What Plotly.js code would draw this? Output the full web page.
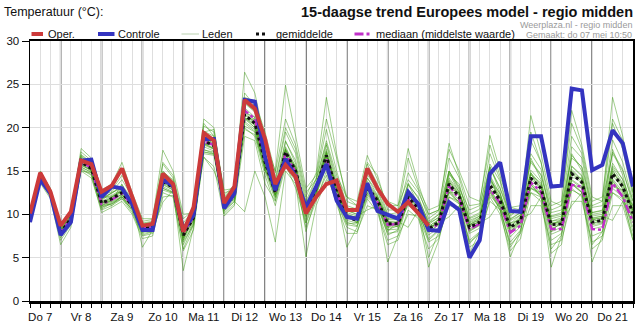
<!DOCTYPE html>
<html><head><meta charset="utf-8">
<script src="https://cdn.plot.ly/plotly-3.0.1.min.js"></script>
<style>html,body{margin:0;padding:0;background:#fff}#chart{width:639px;height:329px}</style>
</head><body><div id="chart"></div>
<script>
// Day labels (placed at noon of each day); the axis starts Do 7 06:00, one value every 6 hours
const dayLabels = ['Do 7','Vr 8','Za 9','Zo 10','Ma 11','Di 12','Wo 13','Do 14','Vr 15','Za 16','Zo 17','Ma 18','Di 19','Wo 20','Do 21'];
const startHour = 6;
const stepHours = 6;

const oper = [10.1,14.8,12.6, 8.7,10.3,16.2,15.8, 12.6,13.3,15.3,12.0, 8.7,8.9,14.7,13.5, 8.0,10.8,19.4,18.5, 11.3,13.2,23.2,22.2, 18.7,13.5,15.7,14.3, 10.1,12.0,13.5,13.9, 10.5,10.5,15.3,13.0, 11.2,10.3,11.4,10.1, 8.7];
const controle = [9.1,14.0,12.4, 7.6,9.1,16.2,16.3, 12.0,13.2,13.0,11.2, 8.2,8.2,14.0,13.3, 8.2,9.9,18.7,18.7, 10.7,12.4,23.2,23.0, 16.6,12.8,16.4,14.3, 10.8,13.2,15.8,11.6, 9.7,9.5,13.6,10.4, 10.0,9.5,12.6,11.2, 8.2,8.1,11.4,10.5, 5.0,7.0,14.7,16.0, 10.4,10.3,19.0,19.0, 13.2,13.3,24.5,24.3, 15.1,15.7,19.7,18.2, 13.2];
const gemiddelde = [9.5,14.3,12.5, 7.9,9.5,16.0,15.3, 11.3,11.8,12.5,11.0, 8.3,8.5,13.8,13.1, 7.6,9.6,18.5,17.9, 11.0,12.3,21.5,20.5, 16.0,12.5,17.2,15.0, 10.3,13.0,16.8,12.6, 9.7,9.3,13.2,11.6, 8.9,8.9,12.0,10.7, 8.3,9.1,13.5,12.0, 8.5,9.1,13.4,11.6, 8.5,9.3,14.2,13.0, 8.8,8.9,14.7,13.7, 9.1,9.3,14.7,13.2, 10.1];
const mediaan = [9.5,14.2,12.4, 7.9,9.5,16.0,15.4, 11.2,11.7,12.4,11.0, 8.4,8.5,13.9,13.2, 7.8,9.7,18.4,18.0, 11.2,12.6,22.0,21.0, 16.2,12.6,17.0,14.8, 10.4,13.0,16.5,12.4, 9.8,9.4,13.0,11.4, 8.8,8.9,11.8,10.5, 8.2,8.9,13.3,11.8, 8.3,8.9,12.9,11.3, 7.9,8.7,13.7,12.6, 8.3,8.3,13.4,13.2, 8.3,8.2,13.6,12.0, 9.1];

// Ensemble members (Leden), values read/
const lid01 = [9.6,14.6,12.8, 8.2,9.8,16.4,15.6, 11.8,12.2,12.9,11.3, 8.6,8.9,14.3,13.5, 8.1,10.0,19.0,18.4, 11.5,12.8,22.3,21.2, 16.6,13.0,17.8,15.4, 10.8,13.6,17.5,13.2, 10.2,9.8,13.8,12.1, 9.4,9.4,12.6,11.2, 8.8,9.7,14.2,12.6, 9.1,9.8,14.5,12.3, 8.9,10.0,15.1,13.8, 9.2,9.6,15.6,14.5, 9.8,10.0,15.6,14.0, 10.8];
const lid02 = [9.3,14.0,12.2, 7.5,9.1,15.5,14.8, 10.8,11.4,12.0,10.5, 7.8,8.0,13.2,12.6, 7.0,9.1,17.8,17.3, 10.4,11.8,20.7,19.8, 15.3,11.9,16.5,14.4, 9.7,12.4,16.0,12.0, 9.1,8.7,12.5,11.0, 8.2,8.3,11.3,10.1, 7.6,8.5,12.8,11.3, 7.8,8.4,12.9,10.9, 7.4,8.6,13.4,12.3, 7.7,8.2,13.9,13.0, 8.3,8.6,13.8,12.4, 9.3];
const lid03 = [9.8,14.9,13.0, 8.5,10.0,17.2,16.2, 12.5,12.8,14.5,12.2, 9.0,9.2,15.8,14.2, 9.0,10.5,20.2,19.5, 12.2,13.4,24.0,22.5, 17.8,13.8,19.5,17.0, 11.5,14.2,19.8,15.0, 11.0,10.6,15.8,13.5, 10.0,10.2,14.8,12.8, 9.5,10.4,16.5,14.2, 10.0,10.6,17.0,14.0, 9.8,10.8,18.5,16.0, 10.2,10.5,19.0,17.0, 10.8,11.0,20.5,17.5, 12.0];
const lid04 = [9.2,13.8,12.0, 7.0,8.8,15.2,14.5, 10.2,10.8,11.5,10.0, 7.2,7.5,12.5,12.0, 5.8,8.2,17.0,16.8, 10.0,11.2,20.0,19.0, 14.5,11.0,15.5,13.8, 8.5,11.5,15.0,11.2, 7.8,7.8,11.8,10.2, 6.5,7.0,10.5,9.5, 6.0,7.2,11.5,10.5, 6.2,7.0,12.0,10.0, 5.8,7.2,12.5,11.5, 5.5,6.5,13.0,12.0, 6.0,7.0,12.5,11.5, 7.5];
const lid05 = [9.5,14.4,12.6, 8.0,9.6,16.5,15.0, 11.0,11.2,12.0,10.8, 8.5,8.7,14.2,13.4, 7.2,9.8,18.0,18.2, 11.2,12.0,21.0,21.0, 15.5,12.8,16.8,15.5, 10.5,12.6,17.2,12.2, 10.0,9.0,12.8,11.8, 9.2,8.5,12.4,10.3, 8.6,8.8,13.0,12.5, 8.8,9.4,14.5,11.2, 8.5,9.0,14.8,12.6, 8.8,9.2,14.2,14.2, 9.5,9.0,15.2,12.8, 10.5];
const lid06 = [9.4,14.2,12.4, 7.6,9.4,15.8,15.0, 11.5,11.0,12.2,11.2, 8.0,8.2,13.5,12.8, 3.5,8.5,17.5,17.0, 10.8,12.5,22.0,20.2, 16.2,12.2,17.5,14.8, 9.0,12.8,17.0,12.8, 9.5,9.5,13.5,11.5, 8.5,9.0,12.2,11.0, 8.0,9.5,13.8,12.2, 8.0,8.8,13.2,11.8, 8.0,9.5,14.0,13.2, 8.0,9.2,14.8,13.5, 8.8,9.5,14.5,13.0, 9.8];
const lid07 = [9.7,15.0,12.9, 8.4,10.2,17.6,16.5, 12.8,13.5,16.0,12.5, 9.5,9.5,17.4,15.0, 10.0,10.2,19.5,19.8, 12.5,12.8,23.5,23.0, 19.5,14.8,21.0,18.0, 12.5,14.0,18.5,14.5, 12.0,11.0,15.0,13.0, 11.5,11.0,14.0,12.5, 10.0,10.5,15.0,13.0, 10.5,11.0,15.5,13.0, 10.0,10.5,16.0,14.5, 10.5,11.0,16.5,15.5, 11.0,11.5,17.0,15.0, 11.5];
const lid08 = [9.1,13.6,11.8, 6.5,8.5,15.0,14.2, 10.5,11.0,11.8,10.2, 7.5,7.8,12.0,12.2, 6.0,8.8,16.6,15.5, 9.8,11.0,19.0,18.5, 13.5,11.5,15.8,13.0, 9.0,11.8,14.5,11.5, 8.5,8.0,11.0,10.5, 7.0,7.5,10.0,9.8, 6.8,7.5,11.0,10.8, 6.8,7.8,11.5,10.5, 6.5,7.8,11.0,11.0, 6.5,7.0,11.5,11.5, 6.8,7.5,11.0,11.0, 7.0];
const lid09 = [9.6,14.5,12.7, 8.3,9.9,16.8,15.9, 11.6,12.5,13.2,11.6, 8.8,9.0,14.6,13.6, 8.5,10.2,21.0,20.0, 12.0,13.2,26.4,24.0, 18.5,15.0,24.9,19.0, 13.0,14.5,21.0,16.5, 12.0,11.5,16.8,14.0, 11.0,11.0,17.6,13.5, 10.0,10.5,18.2,14.5, 11.0,11.2,19.1,15.0, 10.8,10.5,21.4,17.0, 11.5,11.0,22.0,18.0, 12.0,11.5,23.5,19.0, 12.5];
const lid10 = [9.3,14.1,12.3, 7.7,9.2,15.6,15.2, 11.0,11.6,12.4,10.8, 7.9,8.3,13.6,13.0, 6.5,9.0,18.2,17.5, 10.5,11.5,21.2,20.0, 15.8,12.0,16.5,14.6, 8.0,12.2,16.0,12.0, 6.2,8.5,12.0,11.0, 4.5,7.5,11.5,10.0, 3.9,7.0,12.0,11.5, 5.5,8.0,12.5,10.5, 5.1,8.0,13.5,12.0, 3.9,7.5,13.5,12.5, 4.5,7.5,14.0,12.0, 7.0];
const lid11 = [9.5,14.3,12.5, 7.9,9.6,16.1,15.4, 11.2,11.9,12.6,11.1, 8.4,8.6,13.9,13.2, 7.8,9.7,18.6,18.0, 11.1,12.4,21.6,20.6, 16.1,12.6,17.3,15.1, 10.4,13.1,16.9,12.7, 9.8,9.4,13.3,11.7, 9.0,9.0,12.1,10.8, 8.4,9.2,13.6,12.1, 8.6,9.2,13.8,11.7, 8.3,9.4,14.3,13.1, 8.6,9.0,14.8,13.8, 9.2,9.4,14.8,13.3, 10.2];
const lid12 = [9.7,14.7,12.2, 8.8,9.3,15.4,14.9, 12.0,12.0,12.8,11.5, 8.9,8.4,13.0,12.5, 8.8,9.3,17.2,17.0, 11.8,12.0,20.2,19.5, 15.0,13.5,16.0,14.0, 11.0,13.5,15.5,13.5, 10.5,10.0,12.5,12.0, 9.8,9.6,11.5,11.5, 9.0,10.0,12.5,12.5, 9.5,10.0,12.8,12.0, 9.5,10.2,13.0,12.5, 9.8,10.2,13.5,13.0, 10.2,10.5,13.2,12.8, 11.0];
const lid13 = [9.4,14.6,12.8, 7.8,9.7,16.6,15.8, 11.4,11.5,13.5,11.0, 8.2,8.8,15.0,13.8, 7.4,9.5,19.2,18.6, 10.8,12.2,22.8,21.8, 16.8,12.4,18.5,15.8, 10.2,13.2,18.0,13.5, 9.6,9.4,14.2,12.2, 8.6,9.2,13.5,11.2, 8.2,9.0,15.0,12.8, 8.2,9.5,15.5,12.5, 8.0,9.2,16.5,14.0, 8.2,9.0,17.0,15.0, 9.0,9.2,17.5,14.5, 10.0];
const lid14 = [9.3,13.9,12.1, 8.1,9.4,15.3,14.6, 10.8,11.2,11.8,10.6, 8.4,8.4,12.8,12.4, 7.9,9.2,17.2,16.9, 11.0,11.8,19.8,19.2, 15.2,12.2,16.0,14.2, 10.4,12.5,15.8,12.2, 9.6,9.2,12.2,11.2, 8.8,8.8,11.0,10.2, 8.0,8.8,12.0,11.2, 8.2,8.8,12.2,10.8, 8.0,9.0,12.5,12.0, 8.4,8.8,12.8,12.2, 8.8,9.0,12.5,11.8, 9.6];
const lid15 = [9.6,14.2,12.6, 8.0,9.5,16.2,15.5, 11.8,12.5,13.0,11.4, 6.2,8.2,11.4,12.8, 7.0,10.0,16.6,15.0, 12.0,11.5,10.3,15.0, 12.0,6.8,15.0,13.5, 5.1,11.0,14.0,13.0, 9.5,9.8,10.5,11.0, 8.0,9.2,8.5,10.5, 8.5,9.0,9.7,11.0, 8.8,9.0,9.7,11.5, 8.5,9.5,10.1,12.0, 9.0,9.0,11.0,12.5, 9.5,9.8,9.3,11.5, 9.0];
const lid16 = [9.8,14.8,12.9, 8.6,10.1,16.9,16.0, 12.2,12.6,14.0,12.0, 9.2,9.4,16.0,14.5, 9.5,10.5,20.5,19.0, 12.8,13.0,23.0,22.0, 18.0,14.0,20.0,17.5, 12.0,14.8,23.5,17.0, 11.5,11.0,16.0,14.5, 10.5,10.5,16.5,13.0, 10.5,11.0,17.5,15.0, 12.0,11.5,18.0,14.5, 10.8,11.0,19.5,16.0, 11.0,11.5,20.5,17.5, 11.5,12.0,21.0,18.5, 12.5];
const lid17 = [9.2,13.9,12.3, 7.3,9.0,15.0,14.8, 10.6,11.3,12.0,10.4, 7.6,8.0,13.0,12.5, 6.8,8.8,17.4,17.2, 10.2,11.5,20.5,19.6, 15.0,11.6,16.2,14.0, 9.4,12.2,15.5,11.5, 8.8,8.6,12.4,10.8, 7.8,8.0,11.8,10.2, 7.2,8.2,12.5,11.2, 7.0,8.0,12.8,10.5, 6.8,8.2,13.0,12.2, 7.0,7.8,13.5,12.5, 7.5,8.0,13.0,12.0, 8.5];
const lid18 = [9.5,14.5,12.4, 8.1,9.8,16.2,15.2, 11.2,12.0,12.2,11.4, 8.6,8.6,14.0,13.0, 7.5,9.8,18.8,18.2, 11.4,12.6,21.8,21.2, 16.4,12.8,17.5,15.2, 10.6,13.4,17.0,13.0, 10.0,9.6,13.6,12.0, 9.2,9.0,12.8,11.0, 8.6,9.4,14.0,12.4, 8.8,9.6,14.2,12.0, 8.6,9.8,14.8,13.4, 8.8,9.4,15.2,14.0, 9.4,9.6,15.4,13.6, 10.4];
const lid19 = [9.7,14.6,12.9, 8.3,9.9,16.7,15.7, 11.9,12.4,13.4,11.8, 8.9,9.1,14.9,14.0, 8.6,10.3,19.6,19.0, 11.9,13.0,22.9,21.9, 17.2,13.4,18.4,16.2, 11.2,14.0,18.2,14.0, 10.8,10.3,14.6,12.8, 9.9,9.8,13.6,11.8, 9.2,10.0,15.0,13.2, 9.6,10.2,15.3,13.0, 9.4,10.2,16.2,14.6, 9.7,10.0,16.8,15.4, 10.2,10.4,17.2,15.2, 11.0];
const lid20 = [9.4,14.1,12.3, 7.7,9.3,15.7,15.0, 11.0,11.5,12.1,10.7, 8.0,8.2,13.4,12.8, 7.3,9.3,18.0,17.5, 10.6,12.0,21.0,20.0, 15.6,12.2,16.7,14.6, 9.9,12.6,16.3,12.2, 9.3,9.0,12.8,11.2, 8.5,8.6,11.6,10.4, 7.9,8.8,12.9,11.6, 8.1,8.7,13.0,11.0, 7.8,8.9,13.6,12.5, 8.0,8.5,14.0,13.2, 8.6,8.9,14.1,12.6, 9.5];
const lid21 = [9.5,14.4,12.7, 8.0,9.7,16.3,15.6, 11.5,11.6,12.3,11.0, 8.1,8.4,14.1,13.4, 7.6,9.6,18.9,18.5, 11.6,12.5,21.4,20.8, 16.3,12.6,17.6,15.5, 10.6,13.3,17.3,12.9, 9.9,9.1,13.1,11.4, 8.2,8.7,12.3,10.6, 5.0,8.0,14.8,12.5, 9.0,9.6,14.0,12.4, 9.0,9.4,14.6,13.6, 9.2,9.4,15.5,14.4, 9.6,9.8,15.9,14.0, 10.6];
const lid22 = [9.6,14.4,12.6, 8.1,9.6,16.1,15.5, 11.3,12.0,12.8,11.2, 8.5,8.8,14.4,13.4, 8.2,9.9,18.3,17.6, 11.3,12.2,21.2,20.4, 15.7,12.9,16.9,15.0, 10.9,13.0,16.6,13.6, 10.4,10.0,14.2,12.6, 9.5,9.6,13.4,12.0, 9.0,9.6,14.6,13.5, 9.3,9.8,15.8,13.8, 9.3,9.9,17.0,15.2, 9.5,9.8,17.8,16.5, 10.0,10.2,18.6,16.0, 11.5];
const lid23 = [9.3,14.2,12.4, 7.8,9.4,15.9,15.1, 11.1,11.7,12.7,10.9, 8.1,8.4,13.7,13.0, 7.3,9.4,18.1,17.6, 10.9,12.1,21.1,20.3, 15.9,12.3,16.9,14.7, 9.8,12.7,16.6,12.3, 8.9,9.0,12.9,11.2, 7.6,8.2,11.9,10.4, 7.0,8.1,12.6,11.4, 6.6,7.9,12.6,10.8, 6.2,8.1,13.2,12.2, 6.0,7.6,13.6,12.6, 6.5,8.0,13.6,12.2, 8.0];
const lid24 = [9.6,14.5,12.6, 8.1,9.7,16.2,15.5, 11.5,12.1,12.7,11.2, 8.5,8.7,14.0,13.3, 7.9,9.9,18.7,18.2, 11.3,12.5,21.9,20.9, 16.3,12.7,17.4,15.2, 10.6,13.2,17.1,12.9, 10.0,9.6,13.5,11.9, 9.2,9.2,12.3,11.0, 8.6,9.4,13.8,12.3, 8.8,9.4,14.0,11.9, 8.7,9.6,14.6,13.3, 9.0,9.2,15.0,14.0, 9.4,9.6,15.0,13.5, 10.4];
const leden = [lid01,lid02,lid03,lid04,lid05,lid06,lid07,lid08,lid09,lid10,lid11,lid12,lid13,lid14,lid15,lid16,lid17,lid18,lid19,lid20,lid21,lid22,lid23,lid24];

const hoursOf = arr => arr.map((_, i) => startHour + i * stepHours);
const FONT = 'Liberation Sans, Arial, sans-serif';

const traces = [];
leden.forEach(m => traces.push({
  x: hoursOf(m), y: m, type: 'scatter', mode: 'lines', name: 'Leden', showlegend: false, hoverinfo: 'skip',
  line: {color: 'rgba(58,152,16,0.48)', width: 1}
}));
traces.push({x: hoursOf(mediaan), y: mediaan, type: 'scatter', mode: 'lines', name: 'mediaan', showlegend: false,
  line: {color: '#c030c8', width: 2.5, dash: 'dashdot'}});
traces.push({x: hoursOf(gemiddelde), y: gemiddelde, type: 'scatter', mode: 'lines', name: 'gemiddelde', showlegend: false,
  line: {color: '#111', width: 3, dash: 'dot'}});
traces.push({x: hoursOf(controle), y: controle, type: 'scatter', mode: 'lines', name: 'Controle', showlegend: false,
  line: {color: '#3434c0', width: 4}});
traces.push({x: hoursOf(oper), y: oper, type: 'scatter', mode: 'lines', name: 'Oper.', showlegend: false,
  line: {color: '#cc3a3a', width: 4}});

const xMax = 24 * dayLabels.length;
const tickvals = [], ticktext = [];
for (let h = startHour; h <= xMax; h += stepHours) {
  tickvals.push(h);
  ticktext.push(h % 24 === 12 ? dayLabels[(h - 12) / 24] : '');
}
const shapes = [];
for (let d = 1; d < dayLabels.length; d++) {
  shapes.push({type: 'line', xref: 'x', yref: 'paper', x0: 24 * d, x1: 24 * d, y0: 0, y1: 1,
    line: {color: '#4a4a4a', width: 1.5}, layer: 'below'});
}
// legend samples (pixel -> paper)
const W = 603, H = 260, L = 30, T = 41;
const px = v => (v - L) / W, py = v => (T + H - v) / H;
const legendItems = [
  {x0: 31.5, x1: 43, text: 'Oper.', tx: 45.5, color: '#cc3a3a', width: 4, dash: 'solid'},
  {x0: 98, x1: 114.5, text: 'Controle', tx: 115.5, color: '#3434c0', width: 4, dash: 'solid'},
  {x0: 181.5, x1: 199, text: 'Leden', tx: 199.5, color: '#c4d8bc', width: 1.2, dash: 'solid'},
  {x0: 256, x1: 268, text: 'gemiddelde', tx: 274, color: '#111', width: 3, dash: 'dot'},
  {x0: 354.5, x1: 371, text: 'mediaan (middelste waarde)', tx: 374, color: '#c030c8', width: 3, dash: 'dashdot'}
];
const annotations = [];
legendItems.forEach(it => {
  shapes.push({type: 'line', xref: 'paper', yref: 'paper', x0: px(it.x0), x1: px(it.x1), y0: py(34), y1: py(34),
    line: {color: it.color, width: it.width, dash: it.dash}});
  annotations.push({xref: 'paper', yref: 'paper', x: px(it.tx), y: py(34), xanchor: 'left', yanchor: 'middle',
    text: it.text, showarrow: false, font: {family: FONT, size: 11, color: '#111'}});
});
annotations.push({xref: 'paper', yref: 'paper', x: px(1.5), y: py(12), xanchor: 'left', yanchor: 'middle',
  text: 'Temperatuur (°C):', showarrow: false, font: {family: FONT, size: 12.5, color: '#111'}});
annotations.push({xref: 'paper', yref: 'paper', x: px(634), y: py(25.5), xanchor: 'right', yanchor: 'middle',
  text: 'Weerplaza.nl - regio midden', showarrow: false, font: {family: FONT, size: 9, color: '#9a9a9a'}});
annotations.push({xref: 'paper', yref: 'paper', x: px(634), y: py(34.5), xanchor: 'right', yanchor: 'middle',
  text: 'Gemaakt: do 07 mei 10:50', showarrow: false, font: {family: FONT, size: 9, color: '#9a9a9a'}});

const layout = {
  width: 639, height: 329,
  margin: {l: 30, r: 6, t: 41, b: 28, pad: 0},
  paper_bgcolor: '#fff', plot_bgcolor: '#fff',
  showlegend: false,
  title: {text: '<b>15-daagse trend Europees model - regio midden</b>', xref: 'paper', x: 1, xanchor: 'right',
    yref: 'container', y: 1 - 12 / 329, yanchor: 'middle',
    font: {family: FONT, size: 14.5, color: '#111'}},
  xaxis: {range: [startHour, xMax], tickvals: tickvals, ticktext: ticktext, showgrid: true, gridcolor: '#dedede', gridwidth: 1,
    zeroline: false, showline: true, linecolor: '#000', linewidth: 2.5, mirror: true,
    ticks: 'outside', ticklen: 4, tickcolor: '#000', tickwidth: 1,
    tickfont: {family: FONT, size: 11.5, color: '#111'}},
  yaxis: {range: [0, 30], dtick: 5, tick0: 0, showgrid: true, gridcolor: '#dedede', gridwidth: 1, zeroline: false,
    showline: true, linecolor: '#000', linewidth: 1.5, mirror: true,
    ticks: 'outside', ticklen: 7, tickcolor: '#000', tickwidth: 1,
    tickfont: {family: FONT, size: 11.5, color: '#111'}},
  shapes: shapes,
  annotations: annotations
};
Plotly.newPlot('chart', traces, layout, {displayModeBar: false, staticPlot: true});
</script></body></html>
